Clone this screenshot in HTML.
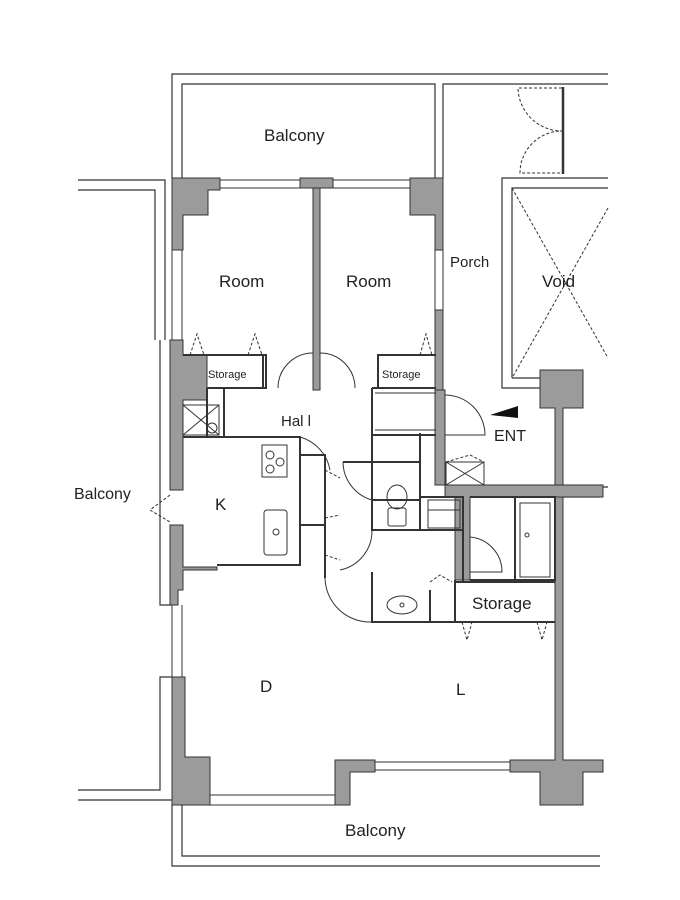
<!DOCTYPE html>
<html><head><meta charset="utf-8"><style>
html,body{margin:0;padding:0;background:#fff}
svg{display:block}
text{font-family:"Liberation Sans",sans-serif;fill:#222}
</style></head><body>
<svg width="680" height="900" viewBox="0 0 680 900" xmlns="http://www.w3.org/2000/svg">
<g fill="none" stroke="#333" stroke-width="1.2">
<!-- top balcony -->
<path d="M172 178V74H608M182 178V84H435V178M443 178V84H608"/>
<!-- left balconies -->
<path d="M78 180H165V340M78 190H155V340"/>
<path d="M160 340V605H172"/>
<path d="M78 790H160V677H172M78 800H172"/>
<!-- bottom balcony -->
<path d="M172 805V866H600M182 805V856H600"/>
<!-- porch / void -->
<path d="M540 388H502V178H608M512 378V188H608M512 378H540"/>
<path d="M563 87V174" stroke-width="2.5"/>
<!-- right exterior line -->
<path d="M600 487H608M563 497H600"/>
</g>
<!-- gray walls -->
<g fill="#9b9b9b" stroke="#333" stroke-width="1">
<path d="M172 178H220V190H208V215H183V250H172Z"/>
<path d="M300 178H333V188H300Z"/>
<path d="M410 178H443V250H435V215H410Z"/>
<path d="M435 310H443V390H435Z"/>
<path d="M170 340H183V355H207V400H183V490H170Z"/>
<path d="M170 525H183V567H217V570H183V590H178V605H170Z"/>
<path d="M172 677H185V757H210V805H172Z"/>
<path d="M335 760H375V772H350V805H335Z"/>
<path d="M510 760H555V408H540V370H583V408H563V487H603V497H563V760H603V772H583V805H540V772H510Z"/>
<path d="M313 188H320V390H313Z"/>
<path d="M435 390H445V485H603V497H470V580H455V497H445V485H435Z"/>
</g>
<!-- windows -->
<g fill="none" stroke="#333" stroke-width="1">
<path d="M220 180H300M220 188H300M333 180H410M333 188H410"/>
<path d="M172 250V340M182 250V340M210 795H335M210 805H335M375 762H510M375 770H510"/>
<path d="M435 250V310M443 250V310M172 605V677M182 605V677"/>
</g>
<!-- interior partitions -->
<g fill="none" stroke="#333" stroke-width="2">
<path d="M183 355H266V388H207M263 355V388"/>
<path d="M436 355H378V388H436"/>
<path d="M207 388V437H183M224 388V437"/>
<path d="M183 437H255"/>
<path d="M255 437H300V565H255M300 437V455H325V578M300 525H325M300 455V565"/>
<path d="M217 565H255"/>
<path d="M372 388H436M372 388V435H436M372 435V500"/>
<path d="M343 462H420V500H372M420 462V433"/>
<path d="M372 500V530H420V500"/>
<path d="M420 497H463V530H420M463 497V582"/>
<path d="M372 572V622H455V582H555M430 590V622"/>
<path d="M470 497H555V580H470M515 497V580"/>
<path d="M455 580V622H555"/>
</g>
<g fill="none" stroke="#333" stroke-width="1">
<!-- door arcs -->
<path d="M278 388A35 35 0 0 1 313 353M320 353A35 35 0 0 1 355 388"/>
<path d="M445 395A40 40 0 0 1 485 435H445"/>
<path d="M300 437A42 42 0 0 1 330 470"/>
<path d="M343 462A40 40 0 0 0 372 500"/>
<path d="M372 530A40 40 0 0 1 340 570"/>
<path d="M325 578A45 45 0 0 0 372 622"/>
<path d="M470 537A35 35 0 0 1 502 572H470"/>
<!-- fixtures -->
<rect x="262" y="445" width="25" height="32"/>
<circle cx="270" cy="455" r="4"/><circle cx="280" cy="462" r="4"/><circle cx="270" cy="469" r="4"/>
<rect x="264" y="510" width="23" height="45" rx="3"/><circle cx="276" cy="532" r="3"/>
<ellipse cx="397" cy="497" rx="10" ry="12"/><rect x="388" y="508" width="18" height="18" rx="2"/>
<rect x="428" y="500" width="32" height="28"/><path d="M428 510H460"/>
<rect x="520" y="503" width="30" height="74"/><circle cx="527" cy="535" r="2"/>
<ellipse cx="402" cy="605" rx="15" ry="9"/><circle cx="402" cy="605" r="2"/>
<rect x="183" y="405" width="36" height="30"/><path d="M183 405L219 435M219 405L183 435"/><circle cx="212" cy="428" r="5"/>
<rect x="446" y="462" width="38" height="23"/><path d="M446 462L484 485M484 462L446 485"/>
<path d="M375 393H436M375 430H436"/>
</g>
<!-- dashed -->
<g fill="none" stroke="#333" stroke-width="1" stroke-dasharray="3,2">
<path d="M512 188L608 358M608 208L512 378"/>
<path d="M562 88H518A44 44 0 0 0 562 131A42 42 0 0 0 520 173H562"/>
<path d="M190 355L197 334L204 355M248 355L255 334L262 355M420 355L426 334L432 355"/>
<path d="M170 495L150 510L170 522"/>
<path d="M325 470L340 478M325 518L340 515M325 555L340 560"/>
<path d="M462 622L467 640L472 622M537 622L542 640L547 622"/>
<path d="M430 582L440 575L452 582M446 462L470 455L484 462"/>
</g>
<polygon points="490,415 518,406 518,418" fill="#111"/>
<g font-size="17">
<text x="264" y="141">Balcony</text>
<text x="219" y="287">Room</text>
<text x="346" y="287">Room</text>
<text x="450" y="267" font-size="15">Porch</text>
<text x="542" y="287">Void</text>
<text x="281" y="426" font-size="15">Hal l</text>
<text x="494" y="441" font-size="16">ENT</text>
<text x="74" y="499" font-size="16">Balcony</text>
<text x="215" y="510">K</text>
<text x="472" y="609">Storage</text>
<text x="260" y="692">D</text>
<text x="456" y="695">L</text>
<text x="345" y="836">Balcony</text>
<text x="208" y="378" font-size="11">Storage</text>
<text x="382" y="378" font-size="11">Storage</text>
</g>
</svg>
</body></html>
